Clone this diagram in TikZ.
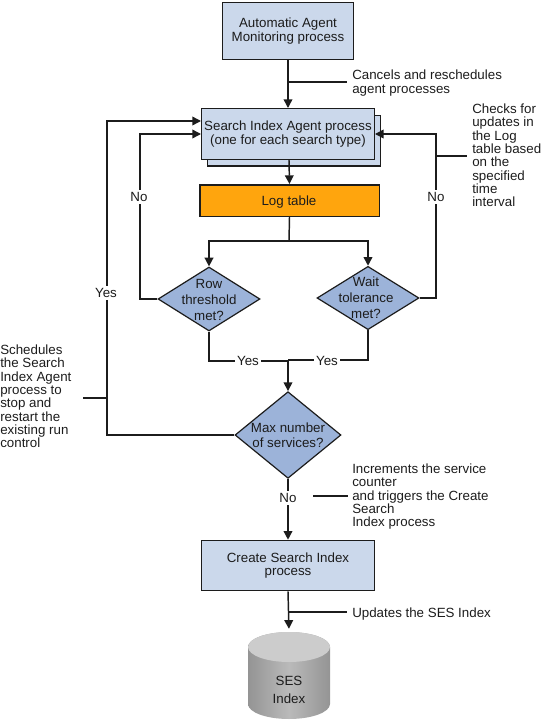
\documentclass[tikz,border=0pt]{standalone}
\usepackage{fontspec}
\setmainfont{Liberation Sans}
\usetikzlibrary{shapes.geometric,arrows.meta,calc}
\definecolor{boxblue}{HTML}{CBD8EB}
\definecolor{diablue}{HTML}{9CB3D9}
\definecolor{logor}{HTML}{FFA50D}
\definecolor{ink}{HTML}{1C1C1C}
\tikzset{
  x=0.75pt,y=-0.75pt,
  every node/.style={font=\fontsize{10}{10}\selectfont,text=ink},
  procbox/.style={draw=ink,line width=1.1pt,fill=boxblue,inner sep=0pt,align=center},
  decis/.style={diamond,draw=ink,line width=0.9pt,fill=diablue,inner sep=0pt,align=center},
  flow/.style={draw=ink,line width=1.1pt,-{Triangle[length=6.5pt,width=6.5pt]}},
  plain/.style={draw=ink,line width=1.1pt},
  thin line/.style={draw=ink,line width=0.9pt},
  note/.style={anchor=north west,align=left,inner sep=0pt},
  lab/.style={fill=white,inner sep=1.5pt},
  dtext/.style={align=center,inner sep=0pt},
}
\begin{document}
\begin{tikzpicture}
\useasboundingbox (0,0) rectangle (544,721);
% cylinder body
\shade[left color=black!42,right color=black!42,middle color=black!27]
  (248,647) -- (248,704) arc[x radius=41,y radius=15,start angle=180,end angle=0] -- (330,647) arc[x radius=41,y radius=15,start angle=0,end angle=-180] -- cycle;
\fill[black!20] (289,647) ellipse[x radius=41,y radius=15];
\node[minimum width=61.5pt,minimum height=65.25pt,inner sep=0pt] (ses) at (289,675.5) {};
\node[dtext] (sestext) at (289,690) {SES\\[3.4pt]Index};
% boxes
\node[procbox,minimum width=98pt,minimum height=42.4pt] (mon) at (288,31) {Automatic Agent\\Monitoring process};
\node[procbox,minimum width=129.4pt,minimum height=37.9pt] (agentb) at (294,140.5) {};
\node[procbox,minimum width=129.4pt,minimum height=37.9pt] (agent) at (288,134) {Search Index Agent process\\(one for each search type)};
\node[procbox,fill=logor,minimum width=134.6pt,minimum height=23.6pt] (log) at (289.5,200.5) {};
\node[dtext] (logt) at (289,202) {Log table};
\node[procbox,minimum width=129.4pt,minimum height=37.6pt] (create) at (288,565.5) {Create Search Index\\process};
% decisions
\node[decis,minimum width=76.5pt,minimum height=48pt] (row) at (209,299) {};
\node[dtext] (rowt) at (209,299.5) {Row\\[2pt]threshold\\[2pt]met?};
\node[decis,minimum width=76.5pt,minimum height=47.5pt] (wait) at (368,298) {};
\node[dtext] (waitt) at (366,298) {Wait\\[2pt]tolerance\\[2pt]met?};
\node[decis,minimum width=79.5pt,minimum height=65pt] (max) at (288,435) {};
\node[dtext] (maxt) at (288,435) {Max number\\[1.6pt]of services?};
% notes
\node[note] (n1) at (352,70) {Cancels and reschedules\\agent processes};
\node[note] (n2) at (472,103.5) {Checks for\\updates in\\the Log\\table based\\on the\\specified\\time\\interval};
\node[note] (n3) at (0,344.5) {Schedules\\the Search\\Index Agent\\process to\\stop and\\restart the\\existing run\\control};
\node[note] (n4) at (352,463.5) {Increments the service\\counter\\and triggers the Create\\Search\\Index process};
\node[note] (n5) at (352,607.5) {Updates the SES Index};
% waypoints
\coordinate (lin) at (201,121);
\coordinate (obend) at (107,121);
\coordinate (ibend) at (140,134);
\coordinate (rbend) at (436,134);
\coordinate (agentout) at (289,160);
\coordinate (tee) at (289,241);
\coordinate (jn) at (288,361);
\coordinate (jw) at (288,360);
\coordinate (c1) at (288,82);
\coordinate (c1e) at (347,82);
\coordinate (c2) at (436,156);
\coordinate (c2e) at (467,156);
\coordinate (c3) at (107,398);
\coordinate (c3e) at (83,398);
\coordinate (c4) at (313,496);
\coordinate (c4e) at (348,496);
\coordinate (c5) at (288,612);
\coordinate (c5e) at (347,612);
% connectors
\draw[flow] (mon.south) -- (agent.north);
\draw[flow] (agentout) -- (log.north);
\draw[plain] (log.south) -- (tee);
\draw[flow] (tee) -| (row.north);
\draw[flow] (tee) -| (wait.north);
\draw[flow] (row.west) -| (ibend) -- (agent.west);
\draw[flow] (wait.east) -| (rbend) -- (agent.east);
\draw[flow] (max.west) -| (obend) -- (lin);
\draw[plain] (row.south) |- (jn);
\draw[plain] (wait.south) |- (jw);
\draw[flow] (jn) -- (max.north);
\draw[flow] (max.south) -- (create.north);
\draw[flow,shorten >=2.2pt] (create.south) -- (ses.north);
% callouts
\draw[thin line] (c1) -- (c1e);
\draw[thin line] (c2) -- (c2e);
\draw[thin line] (c3) -- (c3e);
\draw[thin line] (c4) -- (c4e);
\draw[thin line] (c5) -- (c5e);
% connector labels
\node[lab] (lno1) at (139,197) {No};
\node[lab] (lno2) at (436,197) {No};
\node[lab] (lyes1) at (106,293) {Yes};
\node[lab] (lyes2) at (248,360.5) {Yes};
\node[lab] (lyes3) at (327,360.5) {Yes};
\node[lab] (lno3) at (288,498) {No};
\end{tikzpicture}
\end{document}
